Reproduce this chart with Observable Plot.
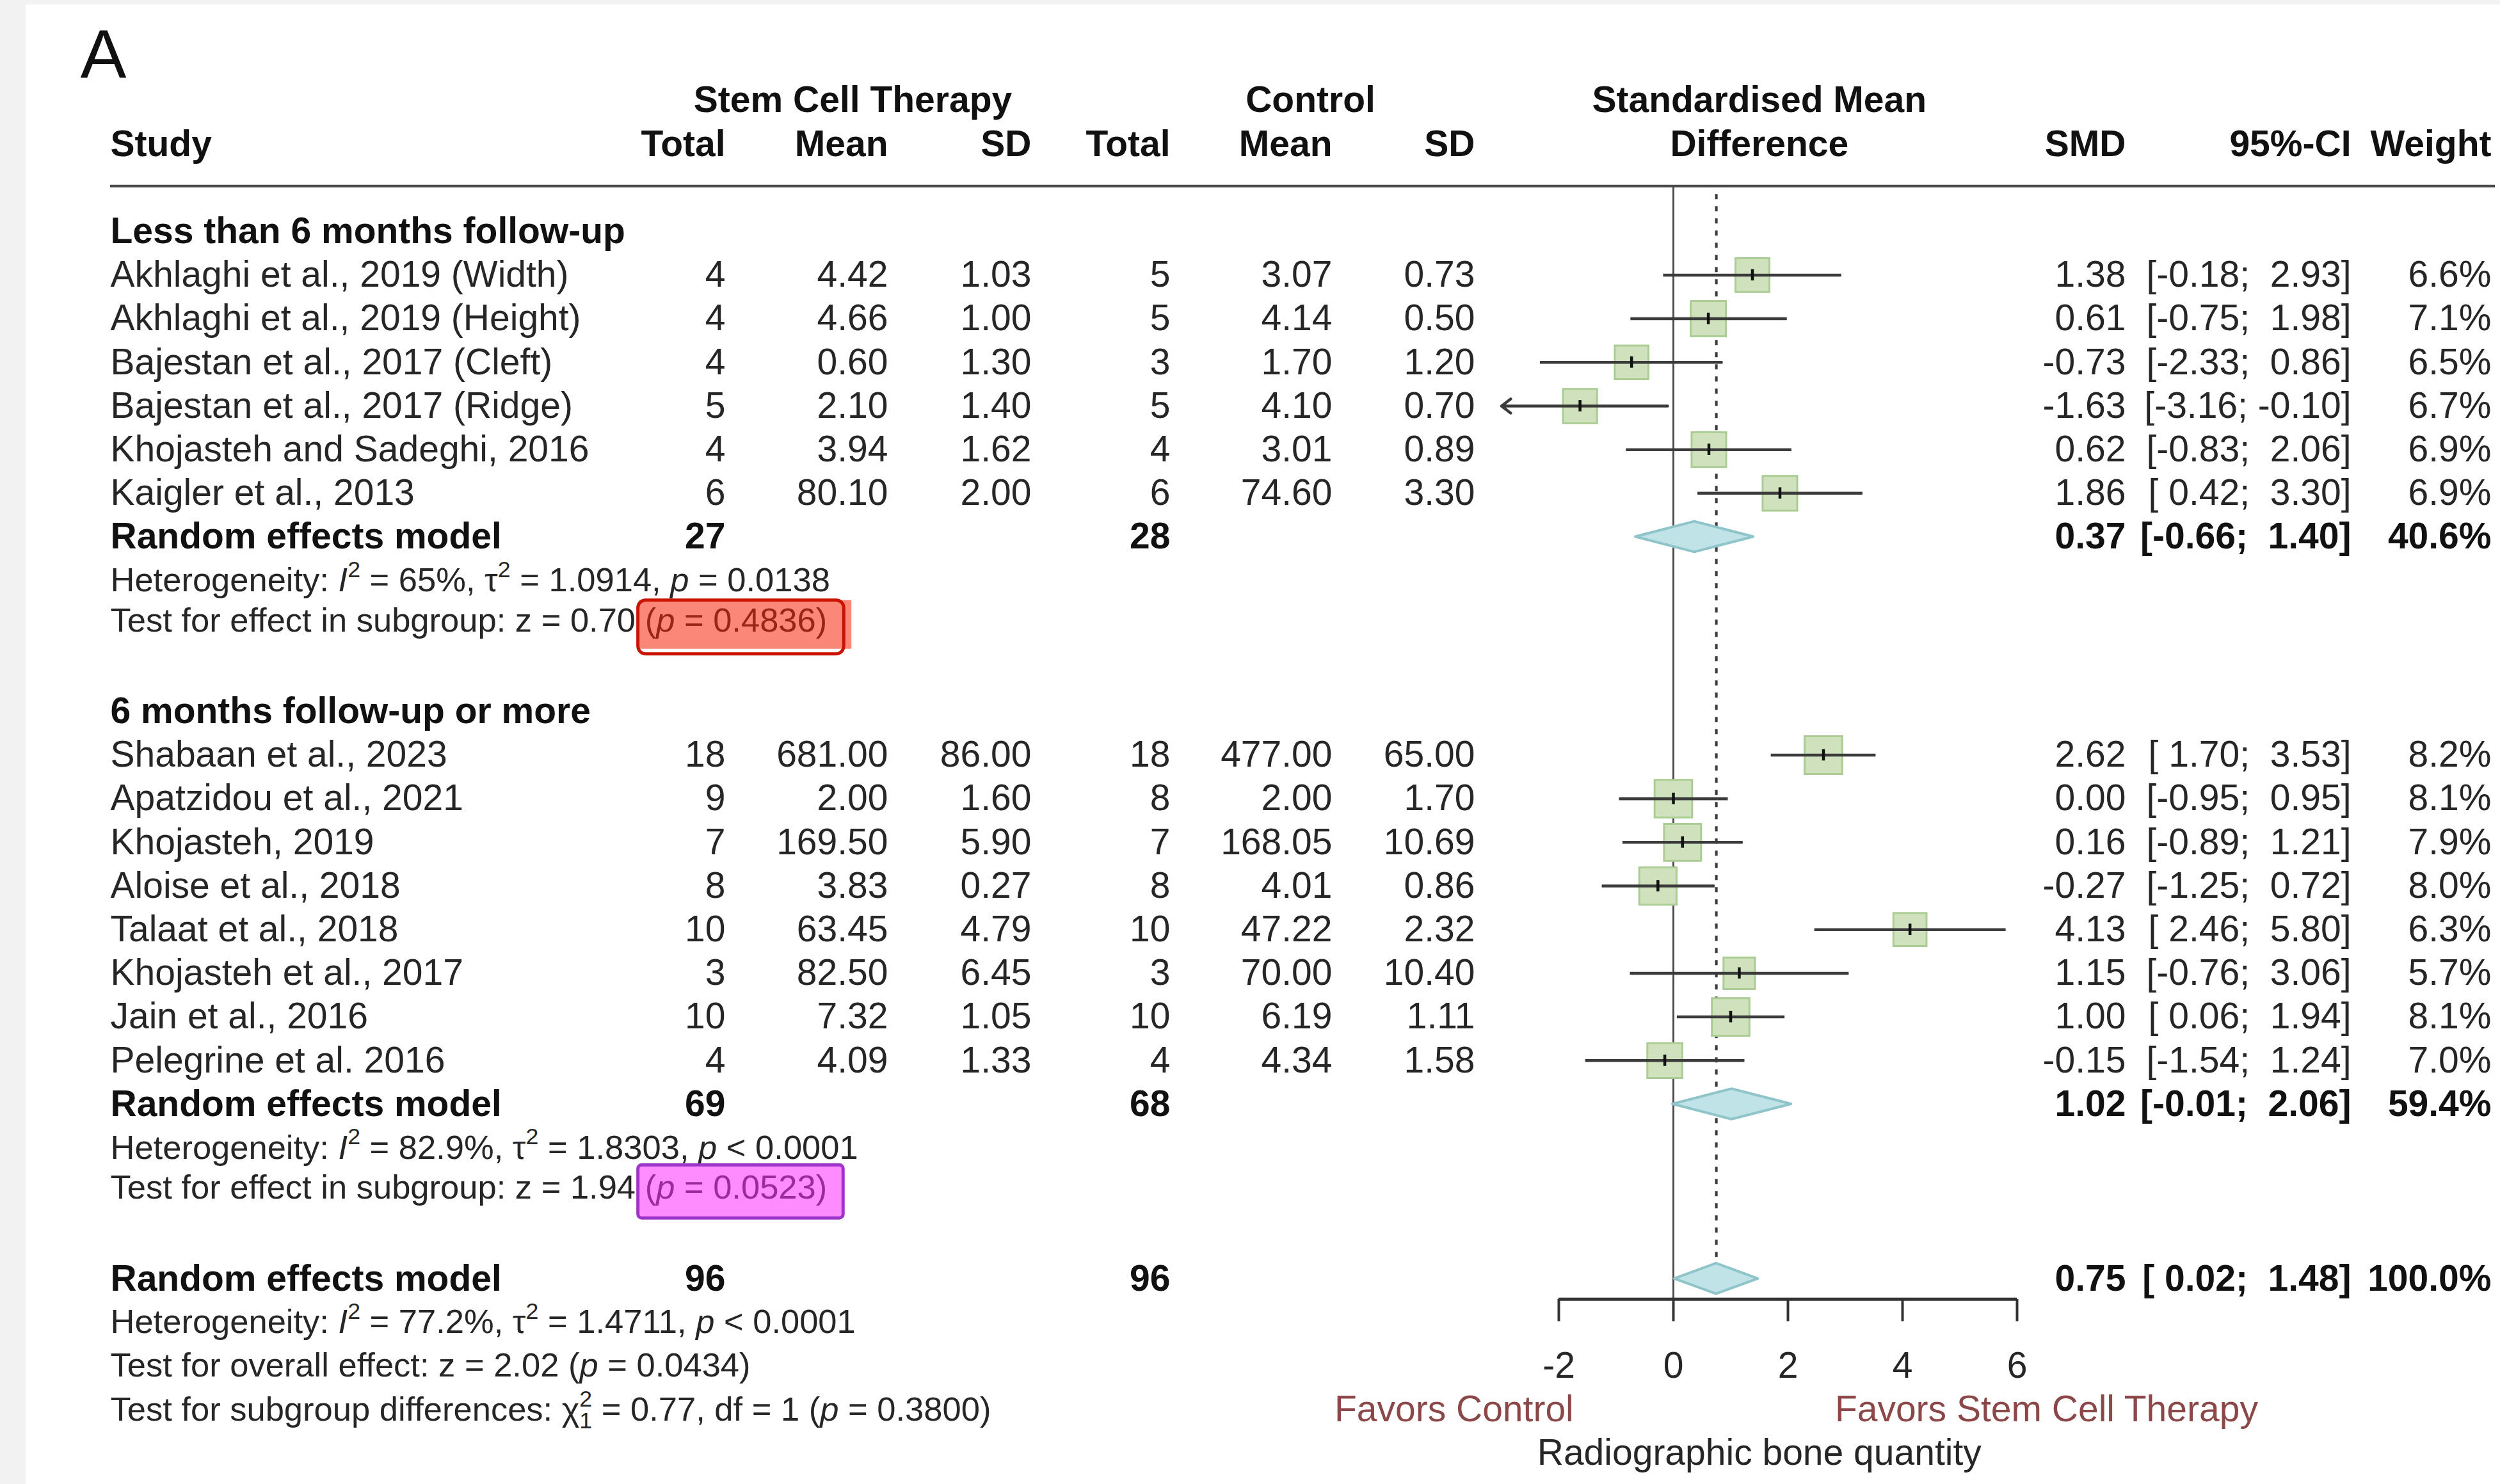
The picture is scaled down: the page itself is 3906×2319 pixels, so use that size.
<!DOCTYPE html>
<html>
<head>
<meta charset="utf-8">
<script src="https://cdn.jsdelivr.net/npm/d3@7"></script>
<script src="https://cdn.jsdelivr.net/npm/@observablehq/plot@0.6"></script>
<style>
  html, body { margin: 0; padding: 0; background: #f2f2f2; width: 3906px; height: 2319px; overflow: hidden; }
  #panel { position: absolute; left: 40px; top: 7px; width: 3866px; height: 2312px; background: #fff; }
  #panel svg text, #panel svg tspan { white-space: pre; }
</style>
</head>
<body>
<div id="panel"></div>
<script>
// ---------------- DATA ----------------
const panelLabel = "A";
const groupLabels = ["Less than 6 months follow-up", "6 months follow-up or more"];
const studies = [
  "Akhlaghi et al., 2019 (Width)", "Akhlaghi et al., 2019 (Height)", "Bajestan et al., 2017 (Cleft)",
  "Bajestan et al., 2017 (Ridge)", "Khojasteh and Sadeghi, 2016", "Kaigler et al., 2013",
  "Shabaan et al., 2023", "Apatzidou et al., 2021", "Khojasteh, 2019", "Aloise et al., 2018",
  "Talaat et al., 2018", "Khojasteh et al., 2017", "Jain et al., 2016", "Pelegrine et al. 2016"
];
const studyGroup = [0, 0, 0, 0, 0, 0, 1, 1, 1, 1, 1, 1, 1, 1];
const nE    = [4, 4, 4, 5, 4, 6, 18, 9, 7, 8, 10, 3, 10, 4];
const meanE = [4.42, 4.66, 0.60, 2.10, 3.94, 80.10, 681.00, 2.00, 169.50, 3.83, 63.45, 82.50, 7.32, 4.09];
const sdE   = [1.03, 1.00, 1.30, 1.40, 1.62, 2.00, 86.00, 1.60, 5.90, 0.27, 4.79, 6.45, 1.05, 1.33];
const nC    = [5, 5, 3, 5, 4, 6, 18, 8, 7, 8, 10, 3, 10, 4];
const meanC = [3.07, 4.14, 1.70, 4.10, 3.01, 74.60, 477.00, 2.00, 168.05, 4.01, 47.22, 70.00, 6.19, 4.34];
const sdC   = [0.73, 0.50, 1.20, 0.70, 0.89, 3.30, 65.00, 1.70, 10.69, 0.86, 2.32, 10.40, 1.11, 1.58];
const smd   = [1.38, 0.61, -0.73, -1.63, 0.62, 1.86, 2.62, 0.00, 0.16, -0.27, 4.13, 1.15, 1.00, -0.15];
const lower = [-0.18, -0.75, -2.33, -3.16, -0.83, 0.42, 1.70, -0.95, -0.89, -1.25, 2.46, -0.76, 0.06, -1.54];
const upper = [2.93, 1.98, 0.86, -0.10, 2.06, 3.30, 3.53, 0.95, 1.21, 0.72, 5.80, 3.06, 1.94, 1.24];
const weight = [6.6, 7.1, 6.5, 6.7, 6.9, 6.9, 8.2, 8.1, 7.9, 8.0, 6.3, 5.7, 8.1, 7.0];

const modelLabel = "Random effects model";
const modelNE = [27, 69, 96];
const modelNC = [28, 68, 96];
const modelSMD = [0.37, 1.02, 0.75];
const modelLower = [-0.66, -0.01, 0.02];
const modelUpper = [1.40, 2.06, 1.48];
const modelWeight = [40.6, 59.4, 100.0];

// *x* italic, ^x superscript, _x subscript, {r}..{/} / {m}..{/} highlighted
const statLines = [
  ["Heterogeneity: *I*^2 = 65%, τ^2 = 1.0914, *p* = 0.0138",
   "Test for effect in subgroup: z = 0.70 {r}(*p* = 0.4836){/}"],
  ["Heterogeneity: *I*^2 = 82.9%, τ^2 = 1.8303, *p* < 0.0001",
   "Test for effect in subgroup: z = 1.94 {m}(*p* = 0.0523){/}"],
  ["Heterogeneity: *I*^2 = 77.2%, τ^2 = 1.4711, *p* < 0.0001",
   "Test for overall effect: z = 2.02 (*p* = 0.0434)",
   "Test for subgroup differences: χ^2_1 = 0.77, df = 1 (*p* = 0.3800)"]
];

const headerTop = ["Stem Cell Therapy", "Control", "Standardised Mean"];
const headerCols = ["Study", "Total", "Mean", "SD", "Total", "Mean", "SD", "Difference", "SMD", "95%-CI", "Weight"];
const xTicks = [-2, 0, 2, 4, 6];
const xlim = [-3, 6];
const nullEffect = 0;
const labelLeft = "Favors Control";
const labelRight = "Favors Stem Cell Therapy";
const axisTitle = "Radiographic bone quantity";

// ---------------- LAYOUT ----------------
const W = 3866, H = 2312;
const FONT = '"Liberation Sans", Arial, Helvetica, sans-serif';
const FS = 57, FS_STAT = 52.5, FS_PANEL = 108;
const TXT = "#262626", BTXT = "#111";
const ROW0 = 354.2, ROWH = 68.19;
const COL = {study: 132, nE: 1093, meanE: 1347, sdE: 1571, nC: 1788, meanC: 2041, sdC: 2264,
             smd: 3281, ci: 3633, w: 3852, expHead: 1292, ctrlHead: 2007};
const groupRow = [0, 11];
const ruleRow = -1.04, dashStartRow = -0.85, axisRow = 24.47, tickLen = 0.51;
const tickLabelRow = 26, favorsRow = 27, titleRow = 28;
const diamondH = 0.35, estTickH = 0.13;
const leftLabelX = -1.74, rightLabelX = 2.82;
const xMid = (xlim[0] + xlim[1]) / 2;

const f2 = v => v.toFixed(2);
const pad = v => (v < 0 ? "" : " ") + v.toFixed(2);
const ci = (l, u) => `[${pad(l)}; ${pad(u)}]`;

// study rows
const rows = studies.map((s, i) => {
  const g = studyGroup[i];
  const k = studyGroup.slice(0, i).filter(v => v === g).length;
  return {
    row: groupRow[g] + 1 + k, study: s,
    nE: String(nE[i]), meanE: f2(meanE[i]), sdE: f2(sdE[i]),
    nC: String(nC[i]), meanC: f2(meanC[i]), sdC: f2(sdC[i]),
    smd: f2(smd[i]), ci: ci(lower[i], upper[i]), w: weight[i].toFixed(1) + "%",
    est: smd[i], lo: lower[i], hi: upper[i], weight: weight[i]
  };
});
const groupCount = groupLabels.map((_, g) => studyGroup.filter(v => v === g).length);
const modelRows = groupLabels.map((_, g) => groupRow[g] + groupCount[g] + 1);
modelRows.push(modelRows[1] + 4);
const models = modelRows.map((r, j) => ({
  row: r, study: modelLabel, nE: String(modelNE[j]), nC: String(modelNC[j]),
  smd: f2(modelSMD[j]), ci: ci(modelLower[j], modelUpper[j]), w: modelWeight[j].toFixed(1) + "%",
  est: modelSMD[j], lo: modelLower[j], hi: modelUpper[j], id: j
}));
const statRowOffsets = [[1, 1.92], [1, 1.92], [1, 2, 3]];
const stats = statLines.flatMap((lines, j) => lines.map((t, k) => ({row: modelRows[j] + statRowOffsets[j][k], t})));
const groups = groupLabels.map((t, g) => ({row: groupRow[g], t}));
const diamondPts = models.flatMap(m => [
  {id: m.id, x: m.lo, y1: m.row, y2: m.row},
  {id: m.id, x: m.est, y1: m.row - diamondH, y2: m.row + diamondH},
  {id: m.id, x: m.hi, y1: m.row, y2: m.row}
]);
const overall = models[2];

const columns = [
  {key: "study", dx: COL.study, anchor: "start"},
  {key: "nE", dx: COL.nE, anchor: "end"},
  {key: "meanE", dx: COL.meanE, anchor: "end"},
  {key: "sdE", dx: COL.sdE, anchor: "end"},
  {key: "nC", dx: COL.nC, anchor: "end"},
  {key: "meanC", dx: COL.meanC, anchor: "end"},
  {key: "sdC", dx: COL.sdC, anchor: "end"},
  {key: "smd", dx: COL.smd, anchor: "end"},
  {key: "ci", dx: COL.ci, anchor: "end"},
  {key: "w", dx: COL.w, anchor: "end"}
];
const headerPos = [
  {dx: COL.study, anchor: "start"}, {dx: COL.nE, anchor: "end"}, {dx: COL.meanE, anchor: "end"},
  {dx: COL.sdE, anchor: "end"}, {dx: COL.nC, anchor: "end"}, {dx: COL.meanC, anchor: "end"},
  {dx: COL.sdC, anchor: "end"}, null, {dx: COL.smd, anchor: "end"}, {dx: COL.ci, anchor: "end"},
  {dx: COL.w, anchor: "end"}
];

const txt = (data, o) => Plot.text(data, {frameAnchor: "left", lineAnchor: "middle", fontSize: FS, fill: TXT, ...o});

const marks = [];
// panel label
marks.push(Plot.text([panelLabel], {text: d => d, frameAnchor: "top-left", lineAnchor: "top", dx: 85, dy: 38, fontSize: FS_PANEL, fill: BTXT}));
// headers
marks.push(txt([headerTop[0]], {text: d => d, y: () => -3, dx: COL.expHead, textAnchor: "middle", fontWeight: "bold", fill: BTXT}));
marks.push(txt([headerTop[1]], {text: d => d, y: () => -3, dx: COL.ctrlHead, textAnchor: "middle", fontWeight: "bold", fill: BTXT}));
marks.push(Plot.text([headerTop[2]], {text: d => d, x: () => xMid, y: () => -3, fontSize: FS, fontWeight: "bold", fill: BTXT}));
headerCols.forEach((h, i) => {
  if (headerPos[i]) marks.push(txt([h], {text: d => d, y: () => -2, dx: headerPos[i].dx, textAnchor: headerPos[i].anchor, fontWeight: "bold", fill: BTXT}));
  else marks.push(Plot.text([h], {text: d => d, x: () => xMid, y: () => -2, fontSize: FS, fontWeight: "bold", fill: BTXT}));
});
// rule under header
marks.push(Plot.ruleY([ruleRow], {insetLeft: COL.study, insetRight: 8, stroke: "#4a4a4a", strokeWidth: 4}));
// group headings
marks.push(txt(groups, {y: "row", text: "t", dx: COL.study, textAnchor: "start", fontWeight: "bold", fill: BTXT}));
// study columns
columns.forEach(c => marks.push(txt(rows, {y: "row", text: c.key, dx: c.dx, textAnchor: c.anchor})));
// model columns
columns.filter(c => ["study", "nE", "nC", "smd", "ci", "w"].includes(c.key)).forEach(c =>
  marks.push(txt(models, {y: "row", text: c.key, dx: c.dx, textAnchor: c.anchor, fontWeight: "bold", fill: BTXT})));
// stats
marks.push(txt(stats, {y: "row", text: "t", dx: COL.study, textAnchor: "start", fontSize: FS_STAT}));

// forest: reference lines
marks.push(Plot.ruleX([nullEffect], {y1: () => ruleRow, y2: () => axisRow, stroke: "#4d4d4d", strokeWidth: 3}));
marks.push(Plot.ruleX([overall], {x: "est", y1: () => dashStartRow, y2: d => d.row - diamondH, stroke: "#3a3a3a", strokeWidth: 4, strokeDasharray: "8,11"}));
// squares
marks.push(Plot.dot(rows, {x: "est", y: "row", r: "weight", symbol: "square", fill: "#cfe2bd", stroke: "#abcd93", strokeWidth: 3}));
// CI lines
const inRange = rows.filter(d => d.lo >= xlim[0]);
const clipped = rows.filter(d => d.lo < xlim[0]);
marks.push(Plot.link(inRange, {x1: "lo", x2: "hi", y1: "row", y2: "row", stroke: "#3b3b3b", strokeWidth: 4.5}));
marks.push(Plot.arrow(clipped, {x1: "hi", x2: () => xlim[0], y1: "row", y2: "row", stroke: "#3b3b3b", strokeWidth: 4.5, headLength: 6, headAngle: 75}));
marks.push(Plot.ruleX(rows, {x: "est", y1: d => d.row - estTickH, y2: d => d.row + estTickH, stroke: "#111", strokeWidth: 4.5}));
// diamonds
marks.push(Plot.areaY(diamondPts, {x: "x", y1: "y1", y2: "y2", z: "id", fill: "#bfe3e7", stroke: "#8fc5ca", strokeWidth: 4, curve: "linear"}));
// axis
marks.push(Plot.ruleY([axisRow], {x1: () => xTicks[0], x2: () => xTicks[xTicks.length - 1], stroke: "#333", strokeWidth: 5}));
marks.push(Plot.ruleX(xTicks, {x: d => d, y1: () => axisRow, y2: () => axisRow + tickLen, stroke: "#333", strokeWidth: 4}));
marks.push(Plot.text(xTicks, {x: d => d, y: () => tickLabelRow, text: d => String(d), fontSize: FS, fill: TXT}));
marks.push(Plot.text([labelLeft], {x: () => leftLabelX, y: () => favorsRow, text: d => d, textAnchor: "end", fontSize: FS, fill: "#8c4848"}));
marks.push(Plot.text([labelRight], {x: () => rightLabelX, y: () => favorsRow, text: d => d, textAnchor: "start", fontSize: FS, fill: "#8c4848"}));
marks.push(Plot.text([axisTitle], {x: () => xMid, y: () => titleRow, text: d => d, fontSize: FS, fill: TXT}));

const chart = Plot.plot({
  width: W, height: H, margin: 0,
  style: {fontFamily: FONT, fontSize: FS + "px", background: "#fff", color: TXT, overflow: "visible"},
  x: {domain: [xTicks[0], xTicks[xTicks.length - 1]], range: [2395, 3111], axis: null},
  y: {domain: [-3, 28], range: [ROW0 - 3 * ROWH, ROW0 + 28 * ROWH], axis: null},
  r: {type: "sqrt", domain: [0, 8.2], range: [0, 33.3]},
  marks
});
document.getElementById("panel").appendChild(chart);

// ---------------- rich text post-processing ----------------
const NS = "http://www.w3.org/2000/svg";
chart.querySelectorAll("text").forEach(el => {
  const s = el.textContent;
  if (el.children.length || !/[*^{]|_./.test(s)) return;
  const fs = parseFloat(getComputedStyle(el).fontSize);
  el.textContent = "";
  let parent = el, shift = 0, prevSup = false, supW = 0;
  const add = str => { const t = document.createElementNS(NS, "tspan"); t.textContent = str; parent.appendChild(t); return t; };
  const plain = str => {
    if (!str) return null;
    const t = add(str);
    if (shift) { t.setAttribute("dy", -shift); shift = 0; }
    prevSup = false;
    return t;
  };
  const re = /\*([^*]+)\*|\^(.)|_(.)|\{([rm])\}|\{\/\}/g;
  let last = 0, m;
  while ((m = re.exec(s))) {
    plain(s.slice(last, m.index));
    if (m[1] != null) { plain(m[1]).setAttribute("font-style", "italic"); }
    else if (m[2] != null) {
      const t = add(m[2]); t.setAttribute("font-size", fs * 0.68);
      const target = -0.42 * fs; t.setAttribute("dy", target - shift); shift = target;
      prevSup = true; supW = t.getComputedTextLength();
    } else if (m[3] != null) {
      const t = add(m[3]); t.setAttribute("font-size", fs * 0.68);
      const target = 0.24 * fs; if (prevSup) t.setAttribute("dx", -supW);
      t.setAttribute("dy", target - shift); shift = target; prevSup = false;
    } else if (m[4] != null) {
      const g = add(""); g.setAttribute("class", "hl hl-" + m[4]); parent = g;
    } else { parent = el; }
    last = re.lastIndex;
  }
  plain(s.slice(last));
});

// highlight boxes around marked p-values
const sr = chart.getBoundingClientRect();
const hl = d3.select(chart).append("g");
chart.querySelectorAll(".hl").forEach(t => {
  const b = t.getBoundingClientRect();
  const x0 = b.left - sr.left, x1 = b.right - sr.left, y0 = b.top - sr.top, y1 = b.bottom - sr.top;
  if (t.classList.contains("hl-r")) {
    hl.append("rect").attr("x", x0 - 9).attr("y", y0 - 1).attr("width", x1 - x0 + 47).attr("height", y1 - y0 + 17)
      .attr("fill", "#f6250a").attr("fill-opacity", 0.55);
    hl.append("rect").attr("x", x0 - 11).attr("y", y0 - 1).attr("width", x1 - x0 + 37).attr("height", y1 - y0 + 25)
      .attr("rx", 12).attr("fill", "none").attr("stroke", "#c81400").attr("stroke-width", 5);
  } else {
    hl.append("rect").attr("x", x0 - 11).attr("y", y0 - 5).attr("width", x1 - x0 + 36).attr("height", y1 - y0 + 24)
      .attr("rx", 6).attr("fill", "#ff2eff").attr("fill-opacity", 0.55);
    hl.append("rect").attr("x", x0 - 11).attr("y", y0 - 5).attr("width", x1 - x0 + 36).attr("height", y1 - y0 + 24)
      .attr("rx", 6).attr("fill", "none").attr("stroke", "#9b35c9").attr("stroke-width", 5);
  }
});
</script>
</body>
</html>
